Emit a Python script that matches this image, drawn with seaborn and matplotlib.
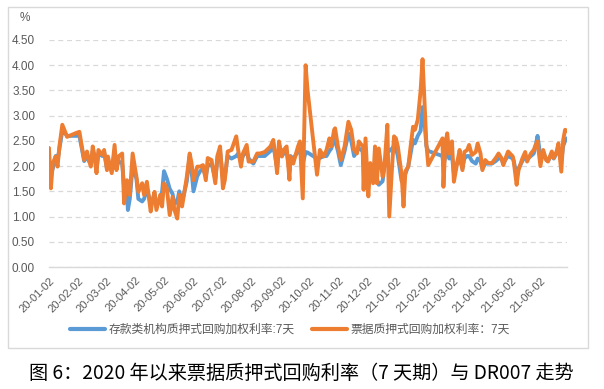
import matplotlib
matplotlib.use("Agg")
import matplotlib.pyplot as plt
import matplotlib.dates as mdates
from matplotlib.lines import Line2D
from matplotlib.patches import Rectangle
import pandas as pd
import seaborn as sns

dates = [
    "2020-01-02", "2020-01-04", "2020-01-06", "2020-01-09", "2020-01-11", "2020-01-13", "2020-01-16",
    "2020-01-19", "2020-01-21", "2020-01-26", "2020-01-31", "2020-02-03", "2020-02-05", "2020-02-08",
    "2020-02-11", "2020-02-13", "2020-02-15", "2020-02-17", "2020-02-19", "2020-02-21", "2020-02-23",
    "2020-02-27", "2020-02-29", "2020-03-03", "2020-03-04", "2020-03-08", "2020-03-11", "2020-03-13",
    "2020-03-15", "2020-03-19", "2020-03-21", "2020-03-24", "2020-03-25", "2020-03-27", "2020-03-30",
    "2020-04-03", "2020-04-05", "2020-04-09", "2020-04-11", "2020-04-14", "2020-04-18", "2020-04-20",
    "2020-04-22", "2020-04-24", "2020-04-28", "2020-04-30", "2020-05-02", "2020-05-05", "2020-05-08",
    "2020-05-11", "2020-05-13", "2020-05-16", "2020-05-18", "2020-05-21", "2020-05-23", "2020-05-26",
    "2020-05-29", "2020-05-31", "2020-06-02", "2020-06-06", "2020-06-09", "2020-06-12", "2020-06-15",
    "2020-06-17", "2020-06-21", "2020-06-25", "2020-06-27", "2020-06-30", "2020-07-03", "2020-07-05",
    "2020-07-08", "2020-07-12", "2020-07-17", "2020-07-19", "2020-07-22", "2020-07-24", "2020-07-28",
    "2020-07-30", "2020-08-04", "2020-08-08", "2020-08-11", "2020-08-16", "2020-08-22", "2020-08-25",
    "2020-08-27", "2020-08-29", "2020-08-31", "2020-09-03", "2020-09-05", "2020-09-08", "2020-09-11",
    "2020-09-12", "2020-09-15", "2020-09-17", "2020-09-20", "2020-09-22", "2020-09-25", "2020-09-28",
    "2020-09-30", "2020-10-10", "2020-10-13", "2020-10-17", "2020-10-20", "2020-10-23", "2020-10-25",
    "2020-10-28", "2020-10-29", "2020-11-01", "2020-11-04", "2020-11-08", "2020-11-12", "2020-11-15",
    "2020-11-18", "2020-11-21", "2020-11-23", "2020-11-27", "2020-11-28", "2020-11-30", "2020-12-03",
    "2020-12-05", "2020-12-08", "2020-12-10", "2020-12-12", "2020-12-14", "2020-12-18", "2020-12-20",
    "2020-12-23", "2020-12-25", "2020-12-28", "2020-12-30", "2021-01-01", "2021-01-03", "2021-01-07",
    "2021-01-09", "2021-01-11", "2021-01-14", "2021-01-16", "2021-01-19", "2021-01-21", "2021-01-24",
    "2021-01-27", "2021-01-29", "2021-01-31", "2021-02-02", "2021-02-04", "2021-02-19", "2021-02-20",
    "2021-02-22", "2021-02-24", "2021-02-26", "2021-03-01", "2021-03-03", "2021-03-07", "2021-03-09",
    "2021-03-12", "2021-03-14", "2021-03-17", "2021-03-19", "2021-03-22", "2021-03-26", "2021-03-28",
    "2021-03-31", "2021-04-02", "2021-04-05", "2021-04-08", "2021-04-12", "2021-04-16", "2021-04-19",
    "2021-04-22", "2021-04-24", "2021-04-27", "2021-04-29", "2021-05-04", "2021-05-05", "2021-05-08",
    "2021-05-10", "2021-05-14", "2021-05-17", "2021-05-19", "2021-05-23", "2021-05-26", "2021-05-28",
    "2021-05-30", "2021-06-02", "2021-06-05", "2021-06-08", "2021-06-10", "2021-06-14", "2021-06-16",
    "2021-06-19", "2021-06-21", "2021-06-24", "2021-06-26", "2021-06-28", "2021-06-30",
]

bill_rate = [
    2.36, 1.56, 2.06, 2.19, 1.99, 2.40, 2.82,
    2.68, 2.58, 2.62, 2.66, 2.68, 2.45, 2.12,
    2.29, 2.12, 1.99, 2.39, 2.19, 1.86, 2.32,
    2.22, 2.32, 1.92, 2.19, 1.86, 2.42, 1.92,
    2.19, 2.25, 1.26, 1.72, 1.60, 1.43, 2.25,
    1.79, 1.49, 1.66, 1.43, 1.69, 1.10, 1.33,
    1.49, 1.13, 1.43, 1.20, 1.66, 1.56, 1.03,
    1.39, 1.13, 0.96, 1.43, 1.20, 1.43, 1.79,
    2.25, 2.06, 1.72, 1.99, 1.99, 2.02, 1.72,
    2.16, 2.12, 1.66, 2.19, 2.39, 1.56, 1.72,
    2.29, 2.32, 2.59, 2.32, 1.99, 2.25, 2.42,
    2.09, 2.09, 2.25, 2.25, 2.28, 2.39, 2.52,
    2.22, 1.86, 2.49, 2.19, 2.32, 2.39, 1.73,
    2.19, 2.05, 2.19, 2.39, 2.49, 1.36, 4.00,
    3.51, 1.83, 2.32, 2.19, 2.32, 2.55, 2.39,
    2.72, 2.75, 2.39, 2.12, 2.39, 2.88, 2.72,
    2.32, 2.25, 2.49, 2.39, 1.53, 2.55, 1.40,
    2.06, 1.66, 2.39, 1.66, 2.35, 1.79, 2.02,
    2.82, 1.00, 2.00, 2.59, 2.55, 2.39, 1.83,
    1.20, 1.90, 1.99, 2.32, 2.78, 2.72, 2.92,
    3.50, 4.12, 3.31, 2.45, 2.02, 2.55, 1.59,
    2.45, 2.65, 2.25, 2.49, 1.69, 2.12, 2.32,
    1.92, 2.28, 2.32, 2.42, 2.22, 2.28, 2.45,
    2.25, 1.92, 2.12, 2.06, 2.06, 2.16, 2.25,
    2.16, 2.02, 2.19, 2.29, 2.19, 2.09, 1.63,
    1.92, 2.15, 2.28, 2.09, 2.25, 2.32, 2.42,
    2.49, 2.00, 2.32, 2.12, 2.09, 2.29, 2.16,
    2.29, 2.45, 1.89, 2.52, 2.72, 2.70,
]

deposit_rate = [
    2.10, 1.85, 1.95, 2.20, 2.10, 2.35, 2.70,
    2.65, 2.60, 2.60, 2.60, 2.60, 2.40, 2.10,
    2.20, 2.10, 2.05, 2.30, 2.20, 1.95, 2.25,
    2.20, 2.28, 1.95, 2.10, 1.90, 2.30, 1.95,
    2.10, 2.05, 1.60, 1.50, 1.13, 1.35, 2.00,
    1.75, 1.35, 1.30, 1.35, 1.55, 1.25, 1.30,
    1.45, 1.20, 1.35, 1.50, 1.90, 1.75, 1.55,
    1.45, 1.25, 1.30, 1.50, 1.30, 1.45, 1.70,
    2.20, 1.90, 1.50, 1.80, 1.90, 1.95, 1.80,
    2.00, 2.05, 1.75, 2.10, 2.30, 1.75, 1.80,
    2.20, 2.15, 2.20, 2.25, 2.10, 2.20, 2.30,
    2.15, 2.05, 2.20, 2.20, 2.20, 2.30, 2.40,
    2.20, 1.95, 2.35, 2.20, 2.25, 2.30, 1.90,
    2.20, 2.15, 2.20, 2.30, 2.30, 2.05, 2.28,
    2.27, 2.15, 2.16, 2.20, 2.20, 2.30, 2.35,
    2.55, 2.50, 2.30, 2.02, 2.30, 2.65, 2.50,
    2.20, 2.30, 2.35, 2.30, 2.00, 2.10, 1.95,
    1.85, 1.75, 1.90, 1.75, 1.63, 1.70, 2.00,
    2.30, 2.30, 2.35, 2.40, 2.35, 2.20, 1.70,
    1.75, 1.85, 2.00, 2.20, 2.52, 2.45, 2.60,
    2.70, 3.17, 2.90, 2.40, 2.30, 2.20, 2.00,
    2.20, 2.30, 2.15, 2.20, 1.85, 2.10, 2.15,
    1.95, 2.15, 2.20, 2.20, 2.10, 2.05, 2.15,
    2.10, 1.95, 2.05, 2.05, 2.05, 2.10, 2.15,
    2.15, 2.05, 2.15, 2.20, 2.15, 2.10, 1.80,
    1.95, 2.10, 2.20, 2.15, 2.20, 2.25, 2.40,
    2.60, 2.20, 2.25, 2.15, 2.10, 2.25, 2.15,
    2.25, 2.35, 2.10, 2.40, 2.50, 2.55,
]

series_names = ["存款类机构质押式回购加权利率:7天", "票据质押式回购加权利率：7天"]
series_colors = ["#5B9BD5", "#ED7D31"]
y_ticks = [0.0, 0.5, 1.0, 1.5, 2.0, 2.5, 3.0, 3.5, 4.0, 4.5]
tick_dates = ["2020-01-02", "2020-02-02", "2020-03-02", "2020-04-02", "2020-05-02", "2020-06-02",
              "2020-07-02", "2020-08-02", "2020-09-02", "2020-10-02", "2020-11-02", "2020-12-02",
              "2021-01-02", "2021-02-02", "2021-03-02", "2021-04-02", "2021-05-02", "2021-06-02"]
x_range = ["2020-01-02", "2021-06-30"]
unit_label = "%"
caption = "图 6：2020 年以来票据质押式回购利率（7 天期）与 DR007 走势"

sns.set_theme(style="white")
plt.rcParams["font.family"] = ["Liberation Sans", "Noto Sans CJK SC", "DejaVu Sans"]

df = pd.DataFrame({
    "date": pd.to_datetime(dates),
    series_names[0]: deposit_rate,
    series_names[1]: bill_rate,
})

W, H = 604, 389
fig = plt.figure(figsize=(W / 100, H / 100), dpi=100)
ax = fig.add_axes([49 / W, 1 - 267 / H, (567 - 49) / W, (267 - 40) / H])

for name, col in zip(series_names, series_colors):
    sns.lineplot(data=df, x="date", y=name, ax=ax, color=col, linewidth=2.8,
                 estimator=None, legend=False)

ax.set_ylim(0, 4.5)
ax.set_yticks(y_ticks)
ax.set_yticklabels([f"{v:.2f}" for v in y_ticks])
ax.set_xlim(pd.Timestamp(x_range[0]), pd.Timestamp(x_range[1]))
ax.set_xticks(pd.to_datetime(tick_dates))
ax.xaxis.set_major_formatter(mdates.DateFormatter("%y-%m-%d"))
ax.set_xlabel("")
ax.set_ylabel("")

ax.yaxis.grid(True, linestyle=(0, (4, 3)), color="#d9d9d9", linewidth=0.9)
ax.set_axisbelow(True)
for s in ["left", "top", "right"]:
    ax.spines[s].set_visible(False)
ax.spines["bottom"].set_color("#d9d9d9")
ax.spines["bottom"].set_linewidth(1.0)

ax.tick_params(axis="y", length=0, labelsize=8.5, labelcolor="#595959", pad=10)
ax.tick_params(axis="x", direction="out", length=4, width=1, color="#d9d9d9",
               labelsize=8, labelcolor="#595959", pad=2)
for lab in ax.get_xticklabels():
    lab.set_rotation(45)
    lab.set_ha("right")
    lab.set_rotation_mode("anchor")

fig.text(20 / W, 1 - 18 / H, unit_label, fontsize=8.5, color="#595959", va="center", ha="left")

handles = [Line2D([0], [0], color=c, linewidth=3) for c in series_colors]
fig.legend(handles, series_names, loc="center", bbox_to_anchor=(290 / W, 1 - 330 / H),
           ncol=2, frameon=False, fontsize=8.5, handlelength=3.0, handletextpad=0.3,
           columnspacing=1.4, labelcolor="#595959")

fig.add_artist(Rectangle((8 / W, 1 - 348 / H), 580 / W, 341 / H, transform=fig.transFigure,
                         fill=False, edgecolor="#d9d9d9", linewidth=1.0))

fig.text(301 / W, 1 - 373 / H, caption, fontsize=13.8, color="black", ha="center", va="center",
         family=["Noto Sans CJK SC", "DejaVu Sans"])

fig.savefig("out.png", dpi=100)
